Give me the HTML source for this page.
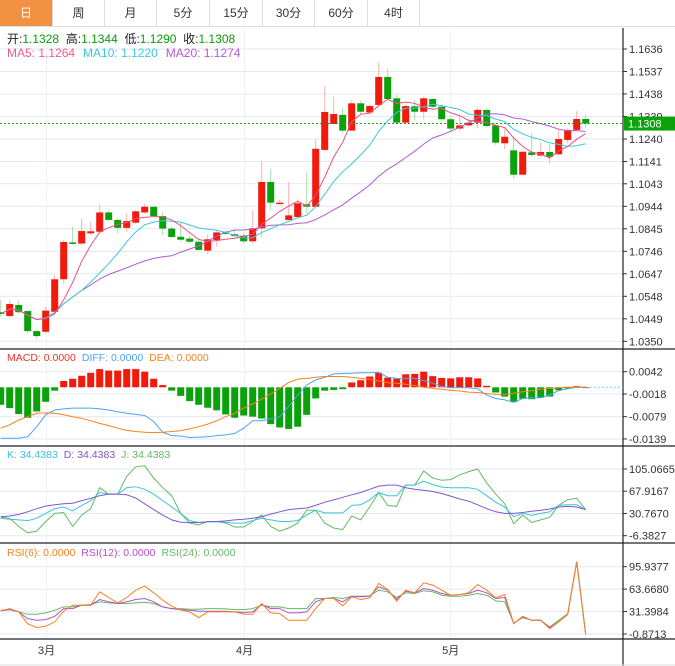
<!DOCTYPE html>
<html><head><meta charset="utf-8">
<style>
html,body{margin:0;padding:0;background:#fff;}
body{width:675px;height:666px;overflow:hidden;font-family:"Liberation Sans","Noto Sans CJK SC",sans-serif;position:relative;}
#tabs{position:absolute;left:0;top:0;width:675px;height:27px;border-bottom:1px solid #ddd;box-sizing:border-box;}
.tab{position:absolute;top:0;height:26px;line-height:26px;text-align:center;font-size:12px;color:#333;border-right:1px solid #ddd;box-sizing:border-box;}
.tab.on{background:#f39143;color:#fff;}
svg{position:absolute;left:0;top:0;}
</style></head>
<body>
<div id="tabs">
<div class="tab on" style="left:0;width:53px">日</div>
<div class="tab" style="left:53px;width:52px">周</div>
<div class="tab" style="left:105px;width:52px">月</div>
<div class="tab" style="left:157px;width:53px">5分</div>
<div class="tab" style="left:210px;width:53px">15分</div>
<div class="tab" style="left:263px;width:52px">30分</div>
<div class="tab" style="left:315px;width:53px">60分</div>
<div class="tab" style="left:368px;width:52px">4时</div>
</div>
<svg id="chart" width="675" height="666"></svg>
<script>
const opens=[1.0478,1.0461,1.0510,1.0483,1.0395,1.0392,1.0480,1.0623,1.0785,1.0780,1.0825,1.0832,1.0917,1.0884,1.0849,1.0872,1.0917,1.0942,1.0901,1.0846,1.0810,1.0802,1.0788,1.0749,1.0796,1.0829,1.0821,1.0815,1.0790,1.0847,1.1051,1.0957,1.0884,1.0897,1.0953,1.0942,1.1192,1.1306,1.1346,1.1277,1.1397,1.1357,1.1390,1.1513,1.1419,1.1312,1.1384,1.1360,1.1416,1.1382,1.1327,1.1286,1.1300,1.1312,1.1368,1.1300,1.1221,1.1190,1.1083,1.1181,1.1167,1.1183,1.1173,1.1236,1.1280,1.1328];
const closes=[1.0470,1.0514,1.0478,1.0395,1.0373,1.0485,1.0623,1.0787,1.0780,1.0835,1.0834,1.0917,1.0884,1.0849,1.0879,1.0922,1.0942,1.0901,1.0846,1.0809,1.0797,1.0788,1.0752,1.0799,1.0829,1.0825,1.0813,1.0790,1.0847,1.1051,1.0960,1.0960,1.0904,1.0957,1.0942,1.1197,1.1359,1.1350,1.1277,1.1397,1.1360,1.1385,1.1513,1.1416,1.1312,1.1385,1.1360,1.1419,1.1382,1.1327,1.1286,1.1300,1.1312,1.1368,1.1297,1.1224,1.1250,1.1083,1.1184,1.1170,1.1183,1.1162,1.1240,1.1280,1.1328,1.1308];
const highs=[1.0532,1.0532,1.0527,1.0488,1.0400,1.0502,1.0642,1.0796,1.0854,1.0891,1.0877,1.0950,1.0928,1.0891,1.0913,1.0928,1.0954,1.0942,1.0920,1.0854,1.0877,1.0818,1.0799,1.0818,1.0840,1.0840,1.0843,1.0825,1.0925,1.1143,1.1107,1.0972,1.1051,1.0975,1.1093,1.1239,1.1473,1.1426,1.1379,1.1412,1.1407,1.1393,1.1576,1.1548,1.1434,1.1390,1.1412,1.1426,1.1419,1.1397,1.1342,1.1346,1.1331,1.1379,1.1375,1.1309,1.1287,1.1250,1.1184,1.1265,1.1225,1.1218,1.1286,1.1287,1.1363,1.1346];
const lows=[1.0458,1.0458,1.0473,1.0385,1.0363,1.0385,1.0473,1.0605,1.0774,1.0774,1.0818,1.0825,1.0877,1.0825,1.0832,1.0866,1.0913,1.0898,1.0818,1.0806,1.0788,1.0781,1.0749,1.0734,1.0766,1.0818,1.0808,1.0781,1.0781,1.0808,1.0928,1.0954,1.0881,1.0891,1.0913,1.0942,1.1192,1.1302,1.1268,1.1277,1.1346,1.1353,1.1385,1.1416,1.1309,1.1309,1.1321,1.1328,1.1375,1.1316,1.1272,1.1275,1.1294,1.1287,1.1291,1.1214,1.1196,1.1067,1.1082,1.1162,1.1162,1.1133,1.1167,1.1221,1.1280,1.1290];
const priceTicks=[1.1636,1.1537,1.1438,1.1339,1.1240,1.1141,1.1043,1.0944,1.0845,1.0746,1.0647,1.0548,1.0449,1.0350];
const macdHist=[-0.0047,-0.0056,-0.0072,-0.0082,-0.0065,-0.0039,-0.0009,0.0017,0.0023,0.0031,0.0039,0.0049,0.0045,0.0045,0.0049,0.0049,0.0042,0.0023,0.0006,-0.0009,-0.0023,-0.0037,-0.0047,-0.0055,-0.0062,-0.0073,-0.0082,-0.0076,-0.0079,-0.0084,-0.0099,-0.0108,-0.0112,-0.0106,-0.0074,-0.0030,-0.0009,-0.0007,-0.0005,0.0013,0.0019,0.0029,0.0039,0.0026,0.0023,0.0035,0.0036,0.0042,0.0030,0.0025,0.0024,0.0027,0.0027,0.0024,0.0004,-0.0014,-0.0025,-0.0040,-0.0031,-0.0032,-0.0028,-0.0025,-0.0008,-0.0003,0.0003,0.0000];
const diffVals=[-0.0137,-0.0137,-0.0137,-0.0133,-0.0106,-0.0074,-0.0061,-0.0058,-0.0056,-0.0056,-0.0056,-0.0058,-0.0061,-0.0066,-0.0070,-0.0073,-0.0076,-0.0092,-0.0121,-0.0130,-0.0131,-0.0135,-0.0134,-0.0133,-0.0130,-0.0128,-0.0124,-0.0110,-0.0090,-0.0090,-0.0085,-0.0079,-0.0052,-0.0021,0.0006,0.0020,0.0027,0.0036,0.0037,0.0038,0.0039,0.0039,0.0040,0.0027,0.0024,0.0024,0.0024,0.0018,0.0011,0.0002,-0.0001,-0.0001,-0.0001,-0.0004,-0.0021,-0.0030,-0.0034,-0.0040,-0.0030,-0.0028,-0.0028,-0.0021,-0.0009,-0.0004,0.0000,0.0000];
const deaVals=[-0.0110,-0.0101,-0.0088,-0.0079,-0.0070,-0.0069,-0.0070,-0.0074,-0.0079,-0.0083,-0.0090,-0.0097,-0.0103,-0.0110,-0.0116,-0.0119,-0.0121,-0.0122,-0.0121,-0.0119,-0.0117,-0.0112,-0.0106,-0.0099,-0.0090,-0.0079,-0.0070,-0.0056,-0.0045,-0.0032,-0.0018,-0.0003,0.0013,0.0022,0.0024,0.0027,0.0029,0.0029,0.0029,0.0027,0.0024,0.0022,0.0017,0.0013,0.0011,0.0008,0.0004,0.0000,-0.0003,-0.0005,-0.0008,-0.0010,-0.0013,-0.0014,-0.0017,-0.0019,-0.0019,-0.0016,-0.0012,-0.0009,-0.0005,-0.0003,-0.0001,0.0000,0.0000,0.0000];
const macdTicks=[0.0042,-0.0018,-0.0079,-0.0139];
const kVals=[22.7,21.1,20.0,18.9,22.7,30.8,38.8,41.5,35.1,44.2,52.3,65.8,63.1,63.1,73.8,75.5,71.1,63.1,52.3,41.5,30.8,18.9,15.7,16.8,16.8,16.2,14.6,14.6,18.9,22.7,20.0,17.3,17.3,18.9,28.1,36.2,31.8,31.8,31.8,44.2,45.3,53.4,65.8,60.4,60.4,78.1,78.1,84.6,79.2,74.9,73.8,73.8,73.8,71.1,60.4,49.6,41.5,25.4,30.8,27.5,30.8,33.5,44.2,45.3,45.3,37.2];
const dVals=[25.4,26.5,29.2,33.5,38.8,43.2,45.3,46.9,48.0,52.3,56.1,60.4,63.1,63.1,62.0,56.6,46.9,37.2,28.1,20.0,16.2,15.7,15.7,16.8,17.3,18.4,20.0,21.1,22.7,25.4,29.7,33.5,37.2,38.8,39.9,44.2,49.6,53.4,57.7,62.0,65.8,71.1,76.5,78.1,78.1,73.8,71.1,69.5,67.4,64.1,59.8,55.0,51.2,45.3,38.8,33.5,30.8,30.8,32.4,34.5,36.2,38.3,41.5,42.6,41.5,37.2];
const jVals=[24.3,22.7,9.2,-1.5,1.2,17.3,30.8,32.4,9.2,28.1,38.8,73.8,63.1,63.1,92.7,108.8,110.4,90.0,73.8,60.4,30.8,14.6,11.9,17.3,17.3,14.6,8.2,8.2,17.3,28.1,9.2,1.2,6.5,14.6,36.2,36.2,14.6,6.5,3.8,26.5,20.0,41.5,65.8,44.2,42.6,78.1,78.1,101.8,90.0,86.2,87.3,95.4,100.8,105.1,81.9,63.1,46.9,13.5,28.1,15.7,20.0,24.3,44.2,53.9,56.1,37.2];
const kdjTicks=[105.0665,67.9167,30.7670,-6.3827];
const rsi6=[32.4,35.7,30.9,14.0,8.3,10.2,16.5,31.9,40.5,40.5,40.5,59.8,51.6,43.9,51.6,62.2,68.0,58.4,47.8,39.1,33.3,30.9,22.7,30.9,30.9,30.9,30.9,27.5,27.5,43.0,29.5,28.5,18.9,18.9,18.9,35.7,50.2,50.2,39.6,52.6,48.7,51.1,71.9,63.2,46.3,62.2,58.4,72.8,69.4,62.2,55.0,55.9,58.4,70.4,62.2,51.1,55.9,14.0,24.6,18.9,18.9,6.8,16.5,27.5,103.2,-1.4];
const rsi12=[32.4,34.3,30.9,21.3,18.9,19.8,24.6,35.7,35.7,40.5,40.5,48.7,45.4,43.0,45.4,48.7,50.2,45.4,38.1,35.7,34.3,33.3,31.9,31.9,31.9,31.9,30.9,30.0,30.9,41.5,35.7,35.7,29.5,29.5,30.9,45.4,50.2,50.2,45.4,53.5,52.6,53.5,67.0,62.2,48.7,60.8,58.4,64.6,62.2,57.4,55.0,55.9,57.4,62.2,58.4,50.2,51.6,14.0,23.7,18.9,18.9,8.3,16.5,27.5,103.2,-1.4];
const rsi24=[33.3,34.3,30.9,27.5,27.5,29.5,33.3,38.1,38.1,40.5,41.5,45.4,43.9,43.0,43.0,43.9,44.9,43.0,38.1,35.7,35.7,34.8,34.8,35.7,35.7,35.2,34.3,34.3,35.7,40.5,38.1,38.1,35.7,35.7,35.7,50.2,50.2,51.6,50.2,53.5,53.5,54.0,62.2,59.8,51.6,58.4,57.4,61.3,59.8,55.0,53.5,53.5,55.0,57.4,55.0,46.8,45.4,15.0,22.7,18.9,18.9,9.2,18.9,28.5,103.2,-1.4];
const rsiTicks=[95.9377,63.6680,31.3984,-0.8713];
const monthLabels=['3月','4月','5月'];
const monthIdx=[5.1,27.1,50.0];

const NS='http://www.w3.org/2000/svg';
const svg=document.getElementById('chart');
function mk(tag,attrs,parent){const e=document.createElementNS(NS,tag);for(const k in attrs)e.setAttribute(k,attrs[k]);(parent||svg).appendChild(e);return e;}
const xAt=i=>0.7+9*i;
const yP=p=>49+(1.1636-p)*2273;
const yM=v=>387.3-v*3717;
const yK=v=>469+(105.0665-v)*0.5985;
const yR=v=>566.7+(95.9377-v)*0.6952;
const AX=623;
const FONT='"Liberation Sans","Noto Sans CJK SC",sans-serif';

// grids
function grid(ticks,yf,nm,fmt){
  ticks.forEach(t=>{
    const y=yf(t);
    const g=mk('line',{x1:0,x2:AX,y1:y,y2:y,stroke:'#e3e9ef','stroke-width':1});
    
    
    const tk=mk('line',{x1:AX,x2:AX+4,y1:y,y2:y,stroke:'#333'});
    
    
    const tx=mk('text',{x:AX+6,y:y+4,'font-size':11,fill:'#333','font-family':FONT});
    tx.textContent=fmt(t);
    
    
  });
}
grid(priceTicks,yP,'price-axis',t=>t.toFixed(4));
grid(macdTicks,yM,'macd-axis',t=>t.toFixed(4));
grid(kdjTicks,yK,'kdj-axis',t=>t.toFixed(4));
grid(rsiTicks,yR,'rsi-axis',t=>t.toFixed(4));
monthIdx.forEach((mi,j)=>{
  const x=xAt(mi);
  const v=mk('line',{x1:x,x2:x,y1:28,y2:639,stroke:'#eef2f5'});
  
  
  const t=mk('text',{x:x,y:654,'font-size':11,fill:'#333','text-anchor':'middle','font-family':FONT});
  t.textContent=monthLabels[j];
  
  
});

// panel borders
[[349],[446],[543],[639]].forEach(a=>{
  const l=mk('line',{x1:0,x2:AX+52,y1:a[0],y2:a[0],stroke:'#222','stroke-width':1.2});
  
  
});
const axl=mk('line',{x1:AX,x2:AX,y1:28,y2:666,stroke:'#222','stroke-width':1.2});


const bl=mk('line',{x1:0,x2:675,y1:665,y2:665,stroke:'#ddd'});



// candles
const RED='#f21a0a',GREEN='#0aa10a';
opens.forEach((o,i)=>{
  const c=closes[i];const up=c>=o;const x=xAt(i);
  const w=mk('line',{x1:x,x2:x,y1:yP(highs[i]),y2:yP(lows[i]),stroke:up?'#f7b3b0':'#a9dca9','stroke-width':1});
  
  
  const t=yP(Math.max(o,c)),b=yP(Math.min(o,c));
  const r=mk('rect',{x:x-3.5,y:t,width:7,height:Math.max(1.5,b-t),fill:up?RED:GREEN});
  
  
});
// moving averages
function ma(n){return closes.map((_,i)=>{const s=closes.slice(Math.max(0,i-n+1),i+1);return s.reduce((a,b)=>a+b,0)/s.length;});}
function poly(vals,yf,color,nm){
  const pts=vals.map((v,i)=>xAt(i).toFixed(1)+','+yf(v).toFixed(1)).join(' ');
  const p=mk('polyline',{points:pts,fill:'none',stroke:color,'stroke-width':1});
  
  
}
poly(ma(20),yP,'#b25bd1','ma20-line');
poly(ma(10),yP,'#3cc8dc','ma10-line');
poly(ma(5),yP,'#ef4f7f','ma5-line');

// current price
const lastY=yP(closes[closes.length-1]);
const cl=mk('line',{x1:0,x2:AX,y1:lastY,y2:lastY,stroke:'#1aa01a','stroke-dasharray':'2,2'});


const cb=mk('rect',{x:AX+1,y:lastY-7,width:52,height:14,fill:'#09a309'});


const ct=mk('text',{x:AX+5,y:lastY+4,'font-size':11,fill:'#fff','font-family':FONT});
ct.textContent=closes[closes.length-1].toFixed(4);



// MACD
macdHist.forEach((v,i)=>{
  const y0=yM(0),y1=yM(v);
  const r=mk('rect',{x:xAt(i)-3.5,y:Math.min(y0,y1),width:7,height:Math.max(0.8,Math.abs(y1-y0)),fill:v>=0?RED:GREEN});
  
  
});
const zl=mk('line',{x1:xAt(macdHist.length-1),x2:AX,y1:yM(0),y2:yM(0),stroke:'#6cc8e8','stroke-dasharray':'2,2'});


poly(diffVals,yM,'#4da3ef','diff-line');
poly(deaVals,yM,'#f5821f','dea-line');
// KDJ
poly(jVals,yK,'#62bb62','j-line');
poly(kVals,yK,'#38c5db','k-line');
poly(dVals,yK,'#8056d0','d-line');
// RSI
poly(rsi24,yR,'#62bb62','rsi24-line');
poly(rsi12,yR,'#b44fcf','rsi12-line');
poly(rsi6,yR,'#f5821f','rsi6-line');

// legends
function legend(y,items,nm){
  let x=7;
  items.forEach(it=>{
    const t=mk('text',{x:x,y:y,'font-size':it[2]||11,fill:it[1],'font-family':FONT});
    t.textContent=it[0];
    
    
    x+=t.getComputedTextLength()+(it[3]||8);
  });
}
(function(){
  const t=mk('text',{x:7,y:43,'font-size':12,'font-family':FONT});
  
  
  [['开:','#222'],['1.1328  ','#0a9a0a'],['高:','#222'],['1.1344  ','#0a9a0a'],['低:','#222'],['1.1290  ','#0a9a0a'],['收:','#222'],['1.1308','#0a9a0a']].forEach(s=>{
    const ts=mk('tspan',{fill:s[1]},t);ts.textContent=s[0];ts.setAttribute('xml:space','preserve');
  });
  t.setAttribute('style','white-space:pre');
})();
legend(57,[['MA5: 1.1264','#ef5b8b',12],['MA10: 1.1220','#3cc8dc',12],['MA20: 1.1274','#b25bd1',12]],'ma-legend');
legend(361,[['MACD: 0.0000','#f0302a',10.5,6],['DIFF: 0.0000','#4da3ef',10.5,6],['DEA: 0.0000','#f5821f',10.5,6]],'macd-legend');
legend(458,[['K: 34.4383','#38c5db',10.5,6],['D: 34.4383','#8056d0',10.5,6],['J: 34.4383','#62bb62',10.5,6]],'kdj-legend');
legend(556,[['RSI(6): 0.0000','#f5821f',10.5,6],['RSI(12): 0.0000','#b44fcf',10.5,6],['RSI(24): 0.0000','#62bb62',10.5,6]],'rsi-legend');
</script>
</body></html>
